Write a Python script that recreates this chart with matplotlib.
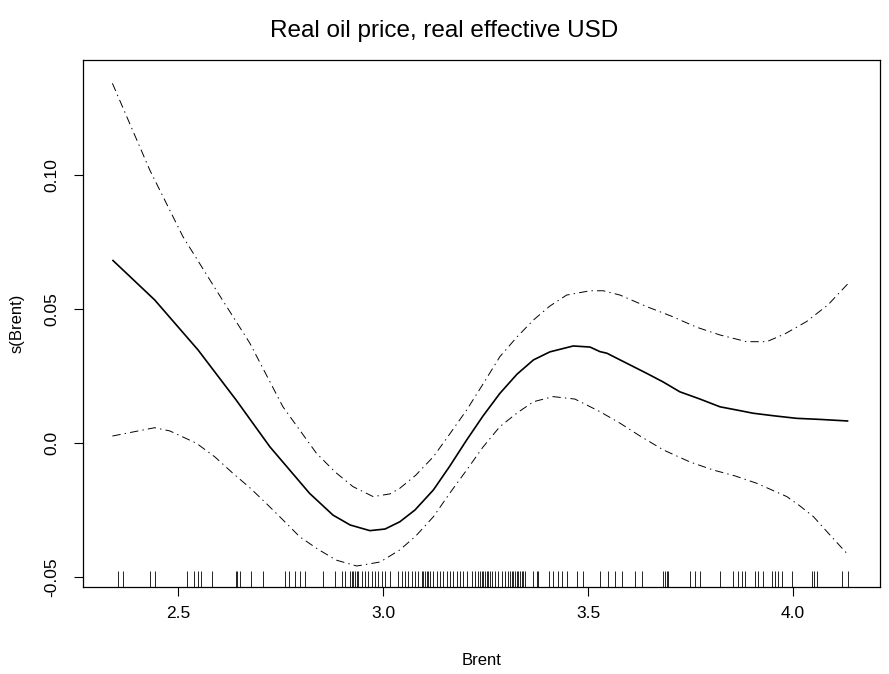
import matplotlib
matplotlib.use("Agg")
import matplotlib.pyplot as plt
import matplotlib.transforms as mtransforms

plt.rcParams['font.family'] = ['Liberation Sans', 'DejaVu Sans']
plt.rcParams['lines.scale_dashes'] = False

# Smooth estimate s(Brent)
fit_x = [2.340, 2.443, 2.549, 2.642, 2.724, 2.821, 2.878, 2.920, 2.968, 3.005,
         3.041, 3.078, 3.123, 3.163, 3.204, 3.244, 3.285, 3.327, 3.367, 3.407,
         3.464, 3.505, 3.529, 3.546, 3.643, 3.683, 3.724, 3.773, 3.822, 3.863,
         3.903, 3.956, 4.009, 4.066, 4.135]
fit_y = [0.0683, 0.0534, 0.0347, 0.0160, -0.0014, -0.0188, -0.0269, -0.0306, -0.0327, -0.0321,
         -0.0294, -0.0250, -0.0175, -0.0086, 0.0011, 0.0101, 0.0185, 0.0257, 0.0310, 0.0340,
         0.0362, 0.0358, 0.0341, 0.0335, 0.0260, 0.0228, 0.0191, 0.0164, 0.0135, 0.0123,
         0.0111, 0.0101, 0.0092, 0.0088, 0.0082]

# Upper confidence band
up_x = [2.340, 2.431, 2.512, 2.593, 2.675, 2.756, 2.837, 2.883, 2.927, 2.976,
        3.017, 3.041, 3.080, 3.123, 3.163, 3.204, 3.244, 3.285, 3.327, 3.367,
        3.407, 3.448, 3.505, 3.537, 3.578, 3.643, 3.702, 3.765, 3.822, 3.887,
        3.936, 3.980, 4.033, 4.085, 4.135]
up_y = [0.1342, 0.1019, 0.0770, 0.0571, 0.0373, 0.0135, -0.0037, -0.0108, -0.0163, -0.0200,
        -0.0190, -0.0169, -0.0120, -0.0051, 0.0034, 0.0123, 0.0220, 0.0322, 0.0396, 0.0459,
        0.0511, 0.0552, 0.0568, 0.0568, 0.0552, 0.0509, 0.0474, 0.0432, 0.0403, 0.0378,
        0.0378, 0.0407, 0.0453, 0.0515, 0.0596]

# Lower confidence band
lo_x = [2.340, 2.443, 2.480, 2.545, 2.590, 2.634, 2.676, 2.715, 2.756, 2.797,
        2.841, 2.886, 2.936, 2.993, 3.041, 3.080, 3.123, 3.163, 3.204, 3.244,
        3.285, 3.327, 3.367, 3.415, 3.468, 3.529, 3.578, 3.627, 3.684, 3.749,
        3.806, 3.859, 3.911, 3.985, 4.017, 4.050, 4.090, 4.135]
lo_y = [0.0026, 0.0057, 0.0045, -0.0001, -0.0052, -0.0113, -0.0168, -0.0225, -0.0287, -0.0350,
        -0.0396, -0.0437, -0.0459, -0.0444, -0.0399, -0.0347, -0.0275, -0.0187, -0.0101, -0.0015,
        0.0061, 0.0112, 0.0154, 0.0173, 0.0164, 0.0117, 0.0074, 0.0026, -0.0026, -0.0071,
        -0.0101, -0.0123, -0.0150, -0.0200, -0.0235, -0.0275, -0.0343, -0.0418]

# Observed Brent values (rug)
rug_x = [2.354, 2.367, 2.432, 2.444, 2.521, 2.540, 2.550, 2.555, 2.582, 2.641,
         2.645, 2.651, 2.677, 2.707, 2.761, 2.771, 2.785, 2.798, 2.810, 2.854,
         2.883, 2.899, 2.907, 2.920, 2.924, 2.928, 2.932, 2.936, 2.940, 2.948,
         2.956, 2.964, 2.972, 2.980, 2.989, 2.997, 3.005, 3.017, 3.037, 3.046,
         3.054, 3.062, 3.070, 3.078, 3.086, 3.094, 3.098, 3.102, 3.107, 3.110,
         3.115, 3.123, 3.131, 3.139, 3.147, 3.155, 3.163, 3.171, 3.180, 3.188,
         3.196, 3.204, 3.216, 3.224, 3.232, 3.237, 3.241, 3.245, 3.249, 3.253,
         3.257, 3.261, 3.265, 3.273, 3.281, 3.290, 3.298, 3.306, 3.310, 3.314,
         3.318, 3.322, 3.326, 3.330, 3.334, 3.338, 3.342, 3.346, 3.367, 3.375,
         3.379, 3.405, 3.415, 3.428, 3.436, 3.448, 3.472, 3.489, 3.529, 3.550,
         3.566, 3.582, 3.615, 3.631, 3.684, 3.688, 3.692, 3.696, 3.749, 3.761,
         3.773, 3.822, 3.853, 3.867, 3.875, 3.883, 3.907, 3.915, 3.928, 3.948,
         3.956, 3.964, 3.972, 3.997, 4.046, 4.051, 4.058, 4.119, 4.135]

x_ticks = [2.5, 3.0, 3.5, 4.0]
x_tick_labels = ["2.5", "3.0", "3.5", "4.0"]
y_ticks = [-0.05, 0.0, 0.05, 0.10]
y_tick_labels = ["-0.05", "0.0", "0.05", "0.10"]

W, H = 889, 674
fig = plt.figure(figsize=(W / 100, H / 100), dpi=100)
left, right, top, bottom = 83, 880, 60, 587
ax = fig.add_axes([left / W, 1 - bottom / H, (right - left) / W, (bottom - top) / H])

ax.plot(fit_x, fit_y, color='black', lw=1.2, solid_capstyle='butt', solid_joinstyle='round')
dashdot = (0, (6, 3, 1, 3))
ax.plot(up_x, up_y, color='black', lw=0.7, linestyle=dashdot)
ax.plot(lo_x, lo_y, color='black', lw=0.7, linestyle=dashdot)

trans = mtransforms.blended_transform_factory(ax.transData, ax.transAxes)
ax.vlines(rug_x, 0, 0.03, transform=trans, color='black', lw=0.6)

ax.set_xlim(2.2683, 4.2122)
ax.set_ylim(-0.05373, 0.1429)

ax.set_xticks(x_ticks)
ax.set_xticklabels(x_tick_labels)
ax.set_yticks(y_ticks)
ax.set_yticklabels(y_tick_labels, rotation=90, va='center')
ax.tick_params(axis='both', direction='out', length=6.5, width=0.8, labelsize=12.5, colors='black')
ax.tick_params(axis='x', pad=7)
ax.tick_params(axis='y', pad=10.5)

for s in ax.spines.values():
    s.set_linewidth(0.9)
    s.set_color('black')

ax.set_xlabel("Brent", fontsize=12)
ax.xaxis.set_label_coords(0.5, -0.125)
ax.set_ylabel("s(Brent)", fontsize=12)
ax.yaxis.set_label_coords(-0.073, 0.5)
fig.text(0.5, 1 - 31 / H, "Real oil price, real effective USD", fontsize=17.5,
         ha='center', va='center')

fig.savefig("out.png", dpi=100)
